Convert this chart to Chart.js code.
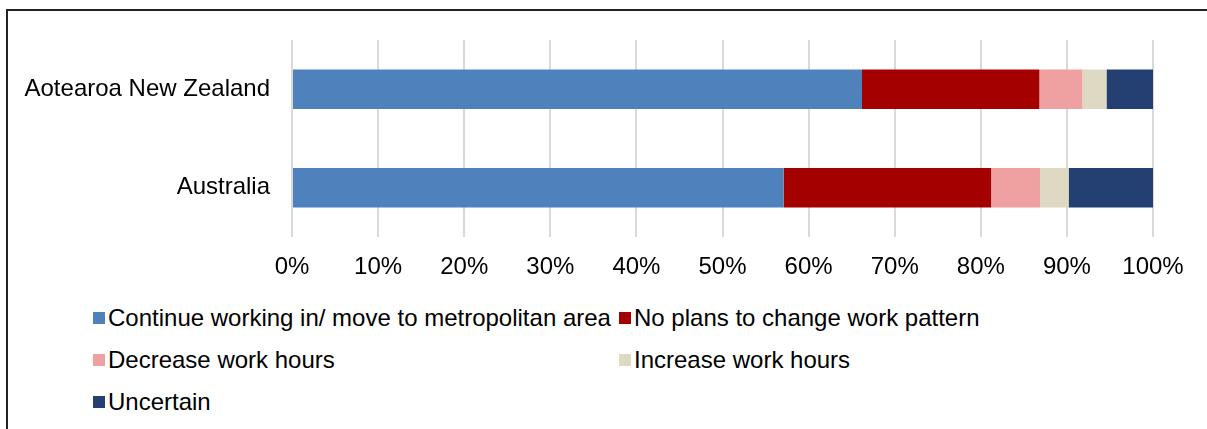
<!DOCTYPE html>
<html>
<head>
<meta charset="utf-8">
<script src="https://cdn.jsdelivr.net/npm/chart.js@4"></script>
<style>
    html, body { margin: 0; padding: 0; background: #fff; }
    body { width: 1207px; height: 429px; position: relative; overflow: hidden; font-family: "Liberation Sans", Arial, sans-serif; }
    #frame { position: absolute; left: 6px; top: 9px; width: 1300px; height: 500px; border: 2px solid #222; box-sizing: border-box; }
    #wrap { position: absolute; left: 0; top: 0; width: 1207px; height: 290px; }
    #legenda { position: absolute; left: 93px; top: 297px; display: grid; grid-template-columns: 526px 500px; row-gap: 0; }
    .item { display: flex; align-items: center; height: 42px; font-size: 24px; color: #000; white-space: nowrap; }
    .caixa { width: 12px; height: 12px; margin-right: 3px; flex: none; }
</style>
</head>
<body>
<div id="frame"></div>
<div id="wrap"><canvas id="grafico"></canvas></div>
<div id="legenda"></div>
<script>
// Dados (percentual)
const categorias = ['Aotearoa New Zealand', 'Australia'];
const rotulosSeries = [
    'Continue working in/ move to metropolitan area',
    'No plans to change work pattern',
    'Decrease work hours',
    'Increase work hours',
    'Uncertain'
];
const continuarMetro = [66.2, 57.1];
const semPlanos = [20.6, 24.1];
const diminuirHoras = [5.0, 5.7];
const aumentarHoras = [2.8, 3.3];
const incerto = [5.4, 9.8];
const marcasEixo = [0, 10, 20, 30, 40, 50, 60, 70, 80, 90, 100];

const cores = ['#4f81bd', '#a50000', '#efa0a0', '#ddd9c3', '#243f72'];
const valores = [continuarMetro, semPlanos, diminuirHoras, aumentarHoras, incerto];

const fonte = { family: '"Liberation Sans", Arial, sans-serif', size: 24 };

const datasets = rotulosSeries.map((rot, i) => ({
    label: rot,
    data: valores[i],
    backgroundColor: cores[i],
    borderWidth: 0,
    barPercentage: 0.5,
    categoryPercentage: 0.8
}));

const ctx = document.getElementById('grafico').getContext('2d');
const chart = new Chart(ctx, {
    type: 'bar',
    data: { labels: categorias, datasets: datasets },
    options: {
        indexAxis: 'y',
        responsive: true,
        maintainAspectRatio: false,
        animation: false,
        layout: { padding: { top: 40, right: 54, left: 0, bottom: 0 } },
        plugins: { legend: { display: false }, tooltip: { enabled: false } },
        scales: {
            x: {
                stacked: true,
                min: 0,
                max: 100,
                afterBuildTicks: (s) => { s.ticks = marcasEixo.map(v => ({ value: v })); },
                afterFit: (s) => { s.height = 53; },
                grid: { color: '#d9d9d9', lineWidth: 2, drawTicks: false },
                border: { display: false },
                ticks: { color: '#000', font: fonte, padding: 16, callback: v => v + '%' }
            },
            y: {
                stacked: true,
                afterFit: (s) => { s.width = 292; },
                grid: { display: false },
                border: { display: false },
                ticks: { color: '#000', font: fonte, padding: 14 }
            }
        }
    }
});

// Legenda em grade de duas colunas, como no original
const legenda = document.getElementById('legenda');
chart.data.datasets.forEach(ds => {
    const el = document.createElement('div');
    el.className = 'item';
    el.innerHTML = `<span class="caixa" style="background:${ds.backgroundColor}"></span><span>${ds.label}</span>`;
    legenda.appendChild(el);
});
</script>
</body>
</html>
